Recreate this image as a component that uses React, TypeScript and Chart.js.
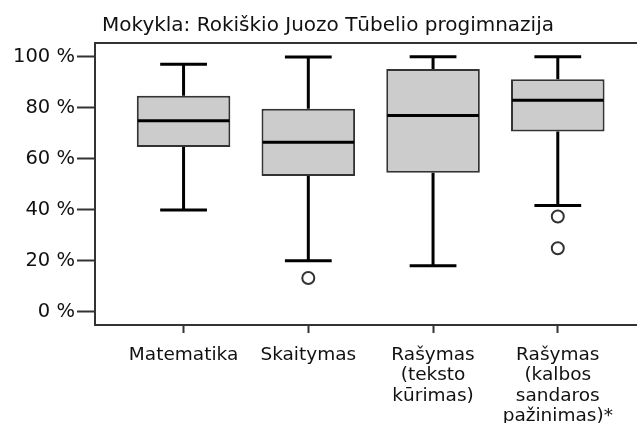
import React, { useEffect, useRef } from "react";
import { Chart, registerables } from "chart.js";

Chart.register(...registerables);

const chartTitle = "Mokykla: Rokiškio Juozo Tūbelio progimnazija";
const categories: string[][] = [
  ["Matematika"],
  ["Skaitymas"],
  ["Rašymas", "(teksto", "kūrimas)"],
  ["Rašymas", "(kalbos", "sandaros", "pažinimas)*"],
];
const whiskerLow = [39.9, 20, 18, 41.6];
const quartile1 = [64.5, 53.2, 54.5, 70.6];
const medians = [74.8, 66.4, 76.9, 82.9];
const quartile3 = [84.6, 79.5, 95.1, 91.1];
const whiskerHigh = [97, 99.8, 99.9, 99.9];
const outlierCategory = [1, 3, 3];
const outlierValue = [13.2, 37.3, 24.9];
const yTicks = [0, 20, 40, 60, 80, 100];

const FONT_FAMILY = "'DejaVu Sans', sans-serif";
const AXIS_COLOR = "#333333";
const TEXT_COLOR = "#111111";
const CAP_WIDTH = 0.375;

export default function App() {
  const ref = useRef<HTMLCanvasElement>(null);

  useEffect(() => {
    if (!ref.current) return;

    const boxPlugin = {
      id: "boxWhiskers",
      afterDatasetsDraw(chart: any) {
        const x = chart.scales.x;
        const y = chart.scales.y;
        const ctx = chart.ctx;
        ctx.save();
        ctx.strokeStyle = "#000";
        ctx.lineCap = "butt";
        categories.forEach((_, i) => {
          const cx = x.getPixelForValue(i);
          const capL = x.getPixelForValue(i - CAP_WIDTH / 2);
          const capR = x.getPixelForValue(i + CAP_WIDTH / 2);
          const boxHalf = (x.getPixelForValue(i + 0.375) - x.getPixelForValue(i - 0.375)) / 2;
          ctx.lineWidth = 3;
          ctx.beginPath();
          ctx.moveTo(cx, y.getPixelForValue(quartile3[i]));
          ctx.lineTo(cx, y.getPixelForValue(whiskerHigh[i]));
          ctx.moveTo(cx, y.getPixelForValue(quartile1[i]));
          ctx.lineTo(cx, y.getPixelForValue(whiskerLow[i]));
          ctx.stroke();
          ctx.beginPath();
          ctx.moveTo(capL, y.getPixelForValue(whiskerHigh[i]));
          ctx.lineTo(capR, y.getPixelForValue(whiskerHigh[i]));
          ctx.moveTo(capL, y.getPixelForValue(whiskerLow[i]));
          ctx.lineTo(capR, y.getPixelForValue(whiskerLow[i]));
          ctx.stroke();
          ctx.beginPath();
          ctx.moveTo(cx - boxHalf + 1, y.getPixelForValue(medians[i]));
          ctx.lineTo(cx + boxHalf - 1, y.getPixelForValue(medians[i]));
          ctx.stroke();
        });
        ctx.restore();
      },
    };

    const framePlugin = {
      id: "frameAndTitle",
      afterDraw(chart: any) {
        const ctx = chart.ctx;
        const area = chart.chartArea;
        ctx.save();
        ctx.strokeStyle = AXIS_COLOR;
        ctx.lineWidth = 2;
        ctx.beginPath();
        ctx.moveTo(area.left - 1, area.top);
        ctx.lineTo(chart.width, area.top);
        ctx.stroke();
        ctx.fillStyle = TEXT_COLOR;
        ctx.font = `20px ${FONT_FAMILY}`;
        ctx.textAlign = "center";
        ctx.textBaseline = "alphabetic";
        ctx.fillText(chartTitle, 328, 31);
        ctx.restore();
      },
    };

    const chart = new Chart(ref.current, {
      type: "bar",
      data: {
        datasets: [
          {
            type: "bar",
            data: categories.map((_, i) => ({ x: i, y: [quartile1[i], quartile3[i]] })) as any,
            backgroundColor: "#cccccc",
            borderColor: "#333333",
            borderWidth: 2,
            borderSkipped: false,
            categoryPercentage: 0.75,
            barPercentage: 1,
          },
          {
            type: "scatter",
            data: outlierCategory.map((c, k) => ({ x: c, y: outlierValue[k] })),
            pointStyle: "circle",
            pointRadius: 6,
            pointBorderWidth: 2,
            borderColor: "#333333",
            backgroundColor: "#ffffff",
          } as any,
        ],
      },
      options: {
        animation: false,
        responsive: false,
        events: [],
        layout: { autoPadding: false, padding: { top: 43, left: 0, right: 0, bottom: 0 } },
        plugins: {
          legend: { display: false },
          tooltip: { enabled: false },
          title: { display: false },
        },
        scales: {
          x: {
            type: "linear",
            offset: false,
            min: -0.71,
            max: 3.635,
            afterBuildTicks: (s: any) => {
              s.ticks = categories.map((_, i) => ({ value: i }));
            },
            afterFit: (s: any) => {
              s.height = 98;
              s.paddingLeft = 0;
              s.paddingRight = 0;
            },
            ticks: {
              autoSkip: false,
              maxRotation: 0,
              padding: 12,
              color: TEXT_COLOR,
              font: { family: FONT_FAMILY, size: 18.5, lineHeight: 1.1 },
              callback: (_v: any, i: number) => categories[i],
            },
            grid: {
              offset: false,
              drawOnChartArea: false,
              drawTicks: true,
              tickLength: 8,
              tickWidth: 2,
              tickColor: AXIS_COLOR,
            },
            border: { display: true, color: AXIS_COLOR, width: 2 },
          },
          y: {
            type: "linear",
            min: -5.2,
            max: 105.3,
            afterBuildTicks: (s: any) => {
              s.ticks = yTicks.map((v) => ({ value: v }));
            },
            afterFit: (s: any) => {
              s.width = 95;
            },
            ticks: {
              padding: 2,
              color: TEXT_COLOR,
              font: { family: FONT_FAMILY, size: 19.5 },
              callback: (v: any) => `${v} %`,
            },
            grid: {
              drawOnChartArea: false,
              drawTicks: true,
              tickLength: 18,
              tickWidth: 2,
              tickColor: AXIS_COLOR,
            },
            border: { display: true, color: AXIS_COLOR, width: 2 },
          },
        },
      } as any,
      plugins: [boxPlugin, framePlugin],
    });

    return () => chart.destroy();
  }, []);

  return (
    <canvas
      ref={ref}
      width={637}
      height={423}
      style={{ position: "fixed", left: 0, top: 0, display: "block", background: "#ffffff" }}
    />
  );
}
